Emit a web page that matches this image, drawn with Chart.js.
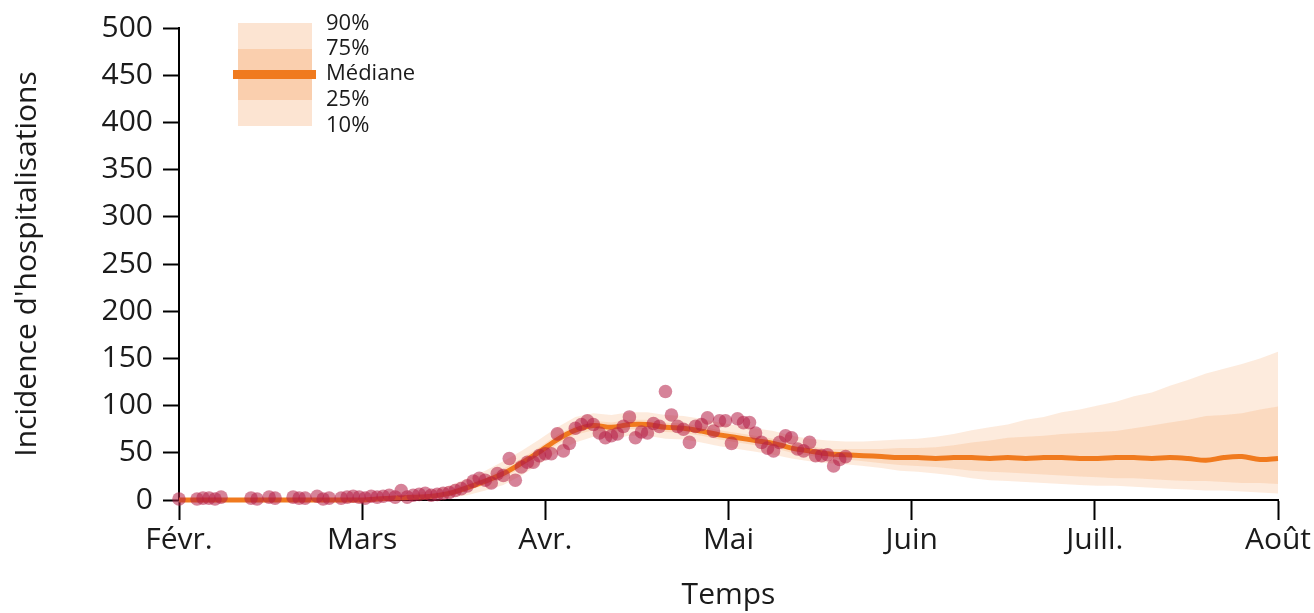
<!DOCTYPE html>
<html><head><meta charset="utf-8">
<script src="https://cdn.jsdelivr.net/npm/chart.js@4/dist/chart.umd.min.js"></script>
<style>html,body{margin:0;padding:0;background:#fff}#wrap{width:1314px;height:613px}</style>
</head><body><div id="wrap"><canvas id="c" width="1314" height="613"></canvas></div>
<script>
// ---- data ----
const monthLabels = ['Févr.', 'Mars', 'Avr.', 'Mai', 'Juin', 'Juill.', 'Août'];
const monthTicks = [0, 30.5, 61, 91.5, 122, 152.5, 183];   // day index of each month start
const yTicks = [0, 50, 100, 150, 200, 250, 300, 350, 400, 450, 500];

// observed daily hospitalisations (index = day since Feb 1, null = no observation)
const observed = [
  1, null, null, 1, 2, 2, 1, 3, null, null,
  null, null, 2, 1, null, 3, 2, null, null, 3,
  2, 2, null, 4, 1, 2, null, 2, 3, 4,
  3, 2, 4, 3, 4, 5, 3, 10, 3, 5,
  6, 7, 5, 6, 7, 8, 10, 12, 15, 20,
  23, 21, 18, 28, 26, 44, 21, 35, 40, 40,
  47, 49, 49, 70, 52, 60, 76, 80, 84, 80,
  71, 66, 68, 70, 78, 88, 66, 72, 71, 81,
  78, 115, 90, 78, 75, 61, 78, 80, 87, 73,
  84, 84, 60, 86, 82, 82, 71, 61, 55, 52,
  61, 68, 66, 54, 52, 61, 47, 47, 48, 36,
  43, 46
];

// model days (every 3 days)
const modelDays = [
  0, 3, 6, 9, 12, 15, 18, 21, 24, 27,
  30, 33, 36, 39, 42, 45, 48, 51, 54, 57,
  60, 63, 66, 69, 72, 75, 78, 81, 84, 87,
  90, 93, 96, 99, 102, 105, 108, 111, 114, 117,
  120, 123, 126, 129, 132, 135, 138, 141, 144, 147,
  150, 153, 156, 159, 162, 165, 168, 171, 174, 177,
  180, 183
];
const median = [
  0, 0, 0, 0, 0, 0, 0, 0, 0, 0,
  0, 1, 2, 3, 4, 7, 13, 20, 28, 39,
  51, 64, 74, 79, 77, 80, 80, 77, 76, 73,
  69, 66, 63, 60, 55, 52, 49, 48, 47, 46,
  45, 45, 44, 45, 45, 44, 45, 44, 45, 45,
  44, 44, 45, 45, 44, 45, 44, 42, 45, 46,
  43, 44
];
const q75 = [
  0, 0, 0, 0, 0, 0, 0, 0, 1, 1,
  1, 2, 3, 4, 6, 10, 17, 24, 33, 44,
  56, 69, 79, 84, 82, 85, 85, 82, 81, 78,
  74, 71, 68, 65, 60, 57, 54, 54, 54, 54,
  55, 55, 56, 58, 61, 63, 66, 67, 68, 70,
  71, 72, 73, 76, 79, 82, 85, 89, 90, 92,
  96, 99
];
const q25 = [
  0, 0, 0, 0, 0, 0, 0, 0, 0, 0,
  0, 0, 1, 2, 3, 5, 10, 16, 23, 34,
  46, 59, 69, 74, 72, 75, 75, 72, 71, 68,
  64, 61, 58, 55, 50, 47, 44, 43, 41, 39,
  37, 36, 35, 33, 31, 30, 29, 28, 27, 26,
  25, 24, 23, 23, 22, 21, 20, 20, 19, 18,
  18, 17
];
const q90 = [
  0, 0, 0, 0, 0, 1, 1, 1, 2, 2,
  2, 3, 5, 7, 10, 15, 23, 31, 41, 52,
  64, 77, 88, 92, 90, 93, 93, 90, 89, 86,
  82, 79, 76, 73, 68, 65, 63, 62, 62, 63,
  64, 65, 67, 70, 74, 77, 80, 85, 88, 93,
  96, 100, 104, 110, 114, 121, 127, 134, 139, 144,
  150, 157
];
const q10 = [
  0, 0, 0, 0, 0, 0, 0, 0, 0, 0,
  0, 0, 0, 1, 1, 2, 5, 10, 16, 26,
  38, 51, 61, 67, 65, 68, 68, 65, 64, 61,
  57, 54, 51, 48, 44, 41, 39, 38, 36, 34,
  31, 30, 28, 26, 23, 21, 20, 19, 18, 17,
  16, 15, 15, 14, 13, 12, 11, 10, 10, 9,
  8, 7
];
const legendLabels = ['90%', '75%', 'Médiane', '25%', '10%'];

// ---- styles ----
const ORANGE = '#F07A1E';
const BAND = 'rgba(240,122,30,0.15)';
const POINT = 'rgba(180,30,70,0.55)';
const FONT = 'Open Sans';
const TXT = '#1b1b1b';

const series = arr => modelDays.map((d, i) => ({ x: d, y: arr[i] }));
const obsPts = observed.map((v, i) => ({ x: i, y: v })).filter(p => p.y !== null);

const legendPlugin = {
  id: 'bandLegend',
  afterDraw(chart) {
    const ctx = chart.ctx;
    const L = chart.chartArea.left;
    ctx.save();
    ctx.fillStyle = 'rgba(240,122,30,0.2)';
    ctx.fillRect(L + 59, 23, 74, 103);
    ctx.fillRect(L + 59, 49, 74, 51);
    ctx.strokeStyle = ORANGE;
    ctx.lineWidth = 9;
    ctx.beginPath();
    ctx.moveTo(L + 54, 74.5);
    ctx.lineTo(L + 137, 74.5);
    ctx.stroke();
    ctx.fillStyle = TXT;
    ctx.font = '22px "' + FONT + '"';
    ctx.textBaseline = 'middle';
    ctx.textAlign = 'left';
    const ys = [24, 49, 74, 100, 126];
    legendLabels.forEach((t, i) => ctx.fillText(t, L + 147, ys[i]));
    ctx.restore();
  }
};

new Chart(document.getElementById('c'), {
  type: 'line',
  data: {
    datasets: [
      { label: 'Observé', data: obsPts, showLine: false, pointRadius: 6.8, pointHoverRadius: 6.8,
        pointBackgroundColor: POINT, pointBorderWidth: 0, order: 0, clip: false },
      { label: 'Médiane', data: series(median), borderColor: ORANGE, borderWidth: 5, pointRadius: 0,
        tension: 0.35, fill: false, order: 1, clip: false },
      { label: '25%', data: series(q25), borderWidth: 0, pointRadius: 0, fill: false, order: 2 },
      { label: '75%', data: series(q75), borderWidth: 0, pointRadius: 0, fill: '-1', backgroundColor: BAND, order: 2 },
      { label: '10%', data: series(q10), borderWidth: 0, pointRadius: 0, fill: false, order: 3 },
      { label: '90%', data: series(q90), borderWidth: 0, pointRadius: 0, fill: '-1', backgroundColor: BAND, order: 3 }
    ]
  },
  options: {
    responsive: false,
    animation: false,
    devicePixelRatio: 1,
    layout: { padding: { left: 0, right: 36, top: 22, bottom: 0 } },
    plugins: { legend: { display: false }, tooltip: { enabled: false } },
    scales: {
      x: {
        type: 'linear', min: 0, max: 183,
        afterBuildTicks: s => { s.ticks = monthTicks.map(v => ({ value: v })); },
        afterFit: s => { s.height = 113; },
        ticks: { callback: (v, i) => monthLabels[i], autoSkip: false, maxRotation: 0,
                 font: { family: FONT, size: 30 }, color: TXT, padding: 2 },
        grid: { drawOnChartArea: false, drawTicks: true, tickLength: 20, tickWidth: 2, tickColor: '#000' },
        border: { display: true, color: '#000', width: 2 },
        title: { display: true, text: 'Temps', font: { family: FONT, size: 30 }, color: TXT,
                 padding: { top: 0, bottom: 0 } }
      },
      y: {
        min: 0, max: 500,
        afterBuildTicks: s => { s.ticks = yTicks.map(v => ({ value: v })); },
        afterFit: s => { s.width = 179; },
        ticks: { font: { family: FONT, size: 30 }, color: TXT, padding: 10 },
        grid: { drawOnChartArea: false, drawTicks: true, tickLength: 16, tickWidth: 2, tickColor: '#000' },
        border: { display: true, color: '#000', width: 2 },
        title: { display: true, text: "Incidence d'hospitalisations", font: { family: FONT, size: 30 },
                 color: TXT, padding: { top: 9, bottom: 0 } }
      }
    }
  },
  plugins: [legendPlugin]
});
</script>
</body></html>
